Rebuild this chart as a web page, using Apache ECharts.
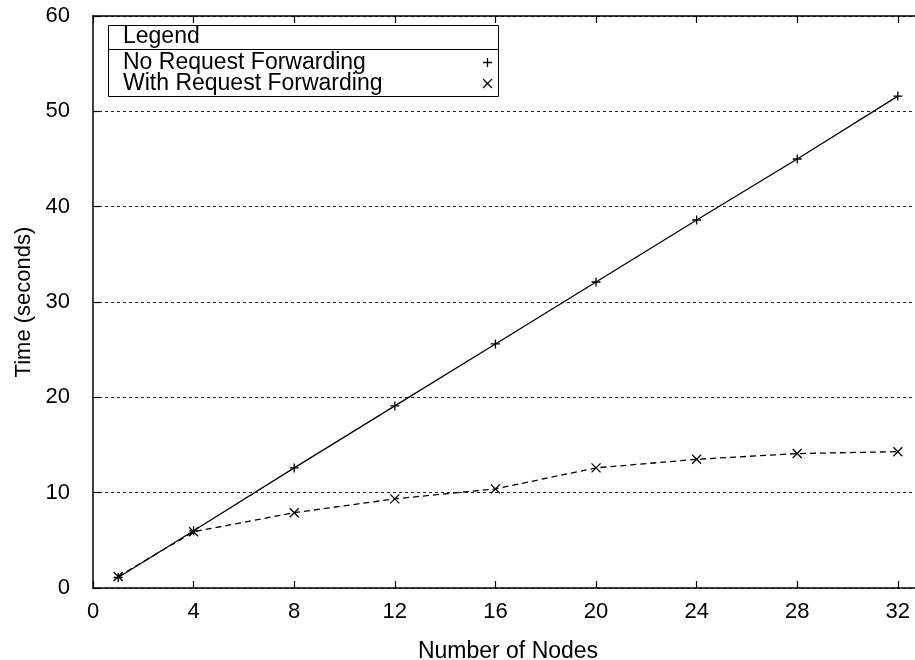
<!DOCTYPE html>
<html>
<head>
<meta charset="utf-8">
<script src="https://cdn.jsdelivr.net/npm/echarts@6/dist/echarts.min.js"></script>
<style>html,body{margin:0;padding:0;background:#fff;}#chart{width:915px;height:660px;}</style>
</head>
<body>
<div id="chart"></div>
<script>
var nodes = [1, 4, 8, 12, 16, 20, 24, 28, 32];
var noForwarding = [1.1, 6.0, 12.6, 19.1, 25.6, 32.1, 38.6, 45.0, 51.6];
var withForwarding = [1.2, 5.9, 7.9, 9.35, 10.4, 12.6, 13.5, 14.1, 14.3];
var seriesNames = ['No Request Forwarding', 'With Request Forwarding'];
var legendTitle = 'Legend';
var xTitle = 'Number of Nodes';
var yTitle = 'Time (seconds)';

var FONT = '"Liberation Sans", Arial, Helvetica, sans-serif';
var PLUS = 'path://M5,0L5,10M0,5L10,5';
var CROSS = 'path://M0,0L10,10M10,0L0,10';

function pairs(xs, ys) { return xs.map(function (x, i) { return [x, ys[i]]; }); }

var chart = echarts.init(document.getElementById('chart'), null, { renderer: 'canvas' });
var symStyle = { color: 'rgba(0,0,0,0)', borderColor: '#000', borderWidth: 1.3 };
chart.setOption({
  animation: false,
  backgroundColor: '#fff',
  textStyle: { fontFamily: FONT, color: '#000' },
  grid: { left: 93, top: 16, width: 830, height: 572, containLabel: false, outerBoundsMode: 'none' },
  xAxis: [{
    type: 'value', position: 'bottom', min: 0, max: 33, interval: 4,
    name: xTitle, nameLocation: 'middle', nameGap: 52,
    nameTextStyle: { fontFamily: FONT, fontSize: 23, color: '#000' },
    axisLine: { show: true, lineStyle: { color: '#000', width: 1.5 } },
    axisTick: { show: true, inside: true, length: 7, lineStyle: { color: '#000', width: 1.2 } },
    axisLabel: { fontFamily: FONT, fontSize: 22, color: '#000', margin: 13, showMaxLabel: false },
    splitLine: { show: false }
  }, {
    type: 'value', position: 'top', min: 0, max: 33, interval: 4,
    axisLine: { show: true, lineStyle: { color: '#000', width: 1.5 } },
    axisTick: { show: true, inside: true, length: 7, lineStyle: { color: '#000', width: 1.2 } },
    axisLabel: { show: false },
    splitLine: { show: false }
  }],
  yAxis: {
    type: 'value', min: 0, max: 60, interval: 10,
    name: yTitle, nameLocation: 'middle', nameGap: 26,
    nameTextStyle: { fontFamily: FONT, fontSize: 22, color: '#000' },
    axisLine: { show: true, lineStyle: { color: '#000', width: 1.5 } },
    axisTick: { show: true, inside: true, length: 7, lineStyle: { color: '#000', width: 1.2 } },
    axisLabel: { fontFamily: FONT, fontSize: 22, color: '#000', margin: 23 },
    splitLine: { show: true, lineStyle: { color: '#222', width: 1, type: [3, 3] } }
  },
  legend: {
    orient: 'vertical', left: 123, top: 51, align: 'right', padding: 0,
    itemWidth: 9, itemHeight: 9, itemGap: -2,
    formatter: '{a|{name}}',
    textStyle: {
      fontFamily: FONT, fontSize: 23, color: '#000',
      rich: { a: { fontFamily: FONT, fontSize: 23, color: '#000', width: 355, height: 20, lineHeight: 20, align: 'left' } }
    },
    itemStyle: symStyle,
    data: [{ name: seriesNames[0], icon: PLUS }, { name: seriesNames[1], icon: CROSS }],
    selectedMode: false
  },
  graphic: [
    { type: 'rect', shape: { x: 108.5, y: 25.5, width: 390, height: 71 }, style: { fill: 'none', stroke: '#000', lineWidth: 1 }, z: 5 },
    { type: 'line', shape: { x1: 108.5, y1: 49.5, x2: 498.5, y2: 49.5 }, style: { stroke: '#000', lineWidth: 1 }, z: 5 },
    { type: 'text', left: 123, top: 25, style: { text: legendTitle, font: '23px ' + FONT, fill: '#000' }, z: 5 }
  ],
  series: [{
    name: seriesNames[0], type: 'line', data: pairs(nodes, noForwarding),
    symbol: PLUS, symbolSize: 9, showSymbol: true,
    lineStyle: { color: '#000', width: 1.3, type: 'solid' },
    itemStyle: symStyle
  }, {
    name: seriesNames[1], type: 'line', data: pairs(nodes, withForwarding),
    symbol: CROSS, symbolSize: 9, showSymbol: true,
    lineStyle: { color: '#000', width: 1.3, type: [6, 4] },
    itemStyle: symStyle
  }]
});
</script>
</body>
</html>
